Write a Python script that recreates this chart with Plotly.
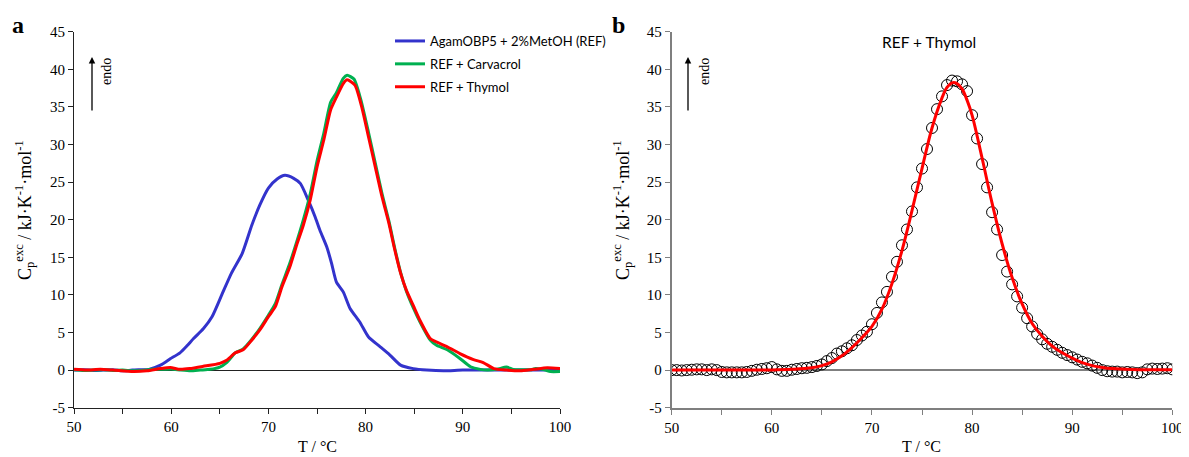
import plotly.graph_objects as go

W, H = 1189, 457
OX, OY = 8, 8  # page body margin offset


def px(x):
    return (x - OX) / W


def py(y):
    return 1 - (y - OY) / H


# ---------- Panel a data ----------
ref_x = [50, 51, 52, 53, 54, 55, 56, 57, 57.7, 58.9, 59.9, 60.9, 61.6, 62.3, 63.3, 64.2, 65.2, 66.2,
         67.3, 68.3, 69.1, 70.0, 70.9, 71.7, 72.6, 73.3, 74.1, 74.8, 75.3, 76.0, 76.5, 77.0, 77.7,
         78.4, 79.4, 80.3, 81.5, 82.5, 83.6, 84.9, 86.3, 88, 90, 92, 94, 96, 98, 100]
ref_y = [0, 0.05, -0.05, 0, 0.05, -0.1, 0, 0.05, 0.1, 0.66, 1.5, 2.3, 3.2, 4.2, 5.5, 7.1, 10.0, 12.9,
         15.5, 19.3, 21.9, 24.2, 25.4, 25.9, 25.5, 24.8, 22.6, 20.4, 18.6, 16.4, 14.2, 11.7, 10.4,
         8.2, 6.4, 4.4, 3.1, 2.0, 0.66, 0.2, 0, -0.1, 0, 0, 0, 0, 0, 0]

carv_x = [50, 51, 52, 53, 54, 55, 56, 57, 58, 59, 60, 61, 62, 63, 64, 65, 65.7, 66.6, 67.4, 68.3,
          69.1, 70.0, 70.7, 71.4, 72.2, 72.9, 73.6, 74.3, 75.0, 75.7, 76.4, 77.0, 77.7, 78.1, 78.8,
          79.5, 80.3, 81.0, 81.7, 82.4, 83.0, 83.6, 84.2, 84.9, 85.6, 86.65, 87.3, 88.4, 89.7, 90.8,
          91.8, 92.5, 93.5, 94.5, 95.2, 96, 97, 97.5, 98.5, 99, 100]
carv_y = [0.05, -0.05, 0, 0.05, -0.05, 0, -0.1, -0.05, 0.1, 0.1, 0.15, 0, -0.1, 0, 0.1, 0.4, 1.0, 2.3,
          2.8, 4.1, 5.5, 7.3, 8.8, 11.4, 14.2, 17.0, 20.0, 23.4, 27.8, 31.5, 35.6, 36.9, 38.8, 39.2,
          38.7, 36.0, 31.6, 27.5, 23.4, 19.8, 16.2, 13.0, 10.5, 8.3, 6.4, 4.0, 3.3, 2.7, 1.55, 0.45,
          0.1, 0, 0.1, 0.4, 0.1, 0.05, 0.05, 0.2, 0.0, -0.2, -0.2]

thy_x = [50, 51.3, 52.7, 54.0, 56.1, 57.5, 58.9, 59.9, 60.9, 61.9, 63.3, 65.0, 65.7, 66.6, 67.4,
         68.3, 69.1, 70.0, 70.7, 71.4, 72.2, 72.9, 73.6, 74.3, 75.0, 75.7, 76.4, 77.0, 77.7, 78.1,
         78.9, 79.6, 80.3, 81.0, 81.7, 82.4, 83.0, 83.6, 84.2, 84.9, 85.6, 86.65, 87.2, 88.4, 89.7,
         91.1, 92.1, 93.2, 94.5, 95.9, 97.3, 98.7, 100]
thy_y = [0.1, 0, 0.1, 0, -0.2, -0.1, 0.2, 0.35, 0.1, 0.2, 0.5, 0.9, 1.3, 2.3, 2.7,
         4.0, 5.3, 7.1, 8.4, 11.1, 13.7, 16.6, 19.3, 22.6, 27.0, 30.6, 34.6, 36.3, 38.1, 38.6,
         37.9, 35.0, 31.0, 27.0, 23.0, 19.5, 16.0, 12.9, 10.6, 8.6, 6.6, 4.2, 3.8, 3.1, 2.2,
         1.4, 1.0, 0.2, 0, -0.1, 0.1, 0.3, 0.2]

# ---------- Panel b data ----------
exp_x = [50, 50.5, 51, 51.5, 52, 52.5, 53, 53.5, 54, 54.5, 55, 55.5, 56, 56.5, 57, 57.5, 58, 58.5,
         59, 59.5, 60, 60.5, 61, 61.5, 62, 62.5, 63, 63.5, 64, 64.5, 65, 65.5, 66, 66.5, 67, 67.5,
         68, 68.5, 69, 69.5, 70, 70.5, 71, 71.5, 72, 72.5, 73, 73.5, 74, 74.5, 75, 75.5, 76, 76.5,
         77, 77.5, 78, 78.5, 79, 79.5, 80, 80.5, 81, 81.5, 82, 82.5, 83, 83.5, 84, 84.5, 85, 85.5,
         86, 86.5, 87, 87.5, 88, 88.5, 89, 89.5, 90, 90.5, 91, 91.5, 92, 92.5, 93, 93.5, 94, 94.5,
         95, 95.5, 96, 96.5, 97, 97.5, 98, 98.5, 99, 99.5, 100]
exp_y = [0.0, 0.0, -0.05, 0.0, 0.05, 0.1, 0.1, 0.0, 0.1, 0.0, -0.25, -0.3, -0.3, -0.3, -0.3, -0.25,
         -0.1, 0.05, 0.15, 0.25, 0.4, 0.1, -0.1, -0.1, 0.05, 0.15, 0.25, 0.3, 0.4, 0.55, 0.75, 1.2,
         1.6, 2.2, 2.5, 2.9, 3.3, 4.0, 4.6, 5.1, 6.1, 7.6, 9.0, 10.4, 12.4, 14.4, 16.6, 18.7, 21.1,
         24.3, 26.8, 29.4, 32.2, 34.7, 36.4, 37.9, 38.5, 38.4, 38.0, 37.1, 33.9, 30.8, 27.4, 24.3,
         21.0, 18.7, 15.3, 13.1, 11.4, 9.8, 8.3, 6.9, 5.8, 4.8, 4.1, 3.5, 3.1, 2.7, 2.3, 2.0, 1.7,
         1.4, 1.1, 0.9, 0.6, 0.3, 0.0, -0.15, -0.2, -0.2, -0.3, -0.25, -0.3, -0.4, -0.3, 0.1, 0.2,
         0.15, 0.2, 0.25, 0.1]

fit_x = [50, 55, 60, 62, 64, 65, 66, 67, 68, 69, 70, 71, 72, 73, 74, 75, 76, 77, 77.5, 78, 78.5,
         79, 79.5, 80, 81, 82, 83, 84, 85, 86, 87, 88, 89, 90, 91, 92, 93, 94, 96, 100]
fit_y = [0, 0, 0.02, 0.1, 0.3, 0.6, 1.1, 1.9, 3.0, 4.3, 5.8, 8.1, 11.5, 15.9, 21.2, 26.8, 32.2, 36.2,
         37.6, 38.2, 38.1, 37.4, 35.9, 33.9, 28.2, 22.2, 16.8, 12.3, 8.8, 6.2, 4.5, 3.2, 2.3, 1.6,
         1.0, 0.6, 0.35, 0.2, 0.08, 0.03]

legend_names = ["AgamOBP5 + 2%MetOH (REF)", "REF + Carvacrol", "REF + Thymol"]
x_ticks = [50, 55, 60, 65, 70, 75, 80, 85, 90, 95, 100]
x_ticktext = ["50", "", "60", "", "70", "", "80", "", "90", "", "100"]
y_ticks = [-5, 0, 5, 10, 15, 20, 25, 30, 35, 40, 45]
y_ticktext = ["-5", "0", "5", "10", "15", "20", "25", "30", "35", "40", "45"]

BLUE = "#3333CC"
GREEN = "#00B050"
RED = "#FF0000"

fig = go.Figure()
fig.add_trace(go.Scatter(x=ref_x, y=ref_y, mode="lines", name=legend_names[0],
                         line=dict(color=BLUE, width=3, shape="spline", smoothing=0.6),
                         xaxis="x", yaxis="y", legendgroup="g1"))
fig.add_trace(go.Scatter(x=carv_x, y=carv_y, mode="lines", name=legend_names[1],
                         line=dict(color=GREEN, width=3, shape="spline", smoothing=0.6),
                         xaxis="x", yaxis="y", legendgroup="g2"))
fig.add_trace(go.Scatter(x=thy_x, y=thy_y, mode="lines", name=legend_names[2],
                         line=dict(color=RED, width=3, shape="spline", smoothing=0.6),
                         xaxis="x", yaxis="y", legendgroup="g3"))

fig.add_trace(go.Scatter(x=exp_x, y=exp_y, mode="markers", showlegend=False,
                         marker=dict(symbol="circle-open", size=11, color="black",
                                     line=dict(width=1, color="black")),
                         xaxis="x2", yaxis="y2"))
fig.add_trace(go.Scatter(x=fit_x, y=fit_y, mode="lines", showlegend=False,
                         line=dict(color=RED, width=3, shape="spline", smoothing=1.0),
                         xaxis="x2", yaxis="y2"))

tickfont = dict(family="Liberation Serif", size=15, color="black")


def xax(domain, anchor, linecolor, lw):
    return dict(domain=domain, anchor=anchor, range=[50, 100], tickvals=x_ticks,
                ticktext=x_ticktext, ticks="outside", ticklen=5, tickcolor=linecolor,
                tickwidth=1, showline=True, linecolor=linecolor, linewidth=lw,
                showgrid=False, zeroline=False, tickfont=tickfont, automargin=False)


def yax(domain, anchor, linecolor, lw, zcolor, zw):
    return dict(domain=domain, anchor=anchor, range=[-5, 45], tickvals=y_ticks,
                ticktext=y_ticktext,
                ticks="outside", ticklen=5, tickcolor=linecolor, tickwidth=1,
                showline=True, linecolor=linecolor, linewidth=lw, showgrid=False,
                zeroline=True, zerolinecolor=zcolor, zerolinewidth=zw, tickfont=tickfont,
                automargin=False)


ydom = [py(407.7), py(31.7)]
fig.update_layout(
    width=W, height=H,
    margin=dict(l=0, r=0, t=0, b=0, pad=0, autoexpand=False),
    paper_bgcolor="white", plot_bgcolor="white",
    xaxis=xax([px(74), px(560)], "y", "#222222", 1),
    yaxis=yax(ydom, "x", "#222222", 1, "#222222", 1),
    xaxis2=xax([px(671.7), px(1172.3)], "y2", "#7F7F7F", 2),
    yaxis2=yax(ydom, "x2", "#7F7F7F", 2, "#7F7F7F", 2),
    showlegend=True,
    legend=dict(x=px(390), y=py(26), xanchor="left", yanchor="top",
                font=dict(family="Lato", size=13, color="black"),
                bgcolor="rgba(0,0,0,0)", tracegroupgap=3, itemwidth=30),
)

serif = "Liberation Serif"
ann = []


def note(x, y, text, size, family=serif, angle=0):
    ann.append(dict(x=px(x), y=py(y), xref="paper", yref="paper", text=text,
                    textangle=angle, showarrow=False, xanchor="center", yanchor="middle",
                    font=dict(family=family, size=size, color="black")))


ytitle = "C<sub>p</sub><sup>exc</sup> / kJ·K<sup>-1</sup>·mol<sup>-1</sup>"
for xp in (24, 622):
    note(xp, 210, ytitle, 18, angle=-90)
for xp in (317, 921):
    note(xp, 446, "T / °C", 16)
note(18, 25, "<b>a</b>", 24)
note(618, 25, "<b>b</b>", 24)
# endo arrows
for xa, xt in ((92, 106), (688, 704)):
    ann.append(dict(x=px(xa), y=py(57), xref="paper", yref="paper", text="",
                    showarrow=True, ax=0, ay=55, arrowhead=2, arrowsize=1, arrowwidth=1.3,
                    arrowcolor="black"))
    note(xt, 72, "endo", 14, angle=-90)
note(929, 42, "REF + Thymol", 15.5, family="Lato")
fig.update_layout(annotations=ann)

fig.write_html("out.html")
